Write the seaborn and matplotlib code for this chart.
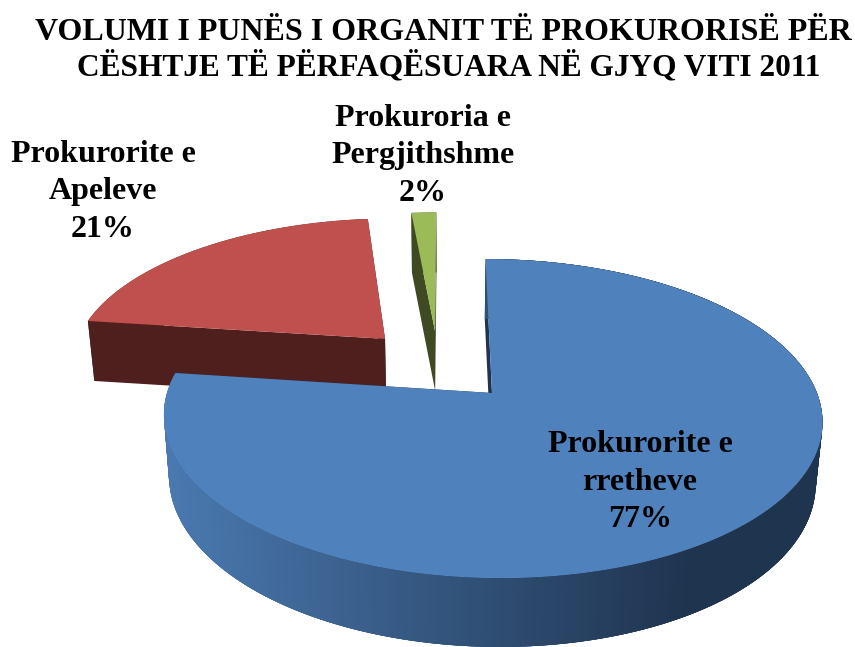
import numpy as np
import matplotlib
matplotlib.use('Agg')
import matplotlib.pyplot as plt
import seaborn as sns

title_lines = ['VOLUMI I PUNËS I ORGANIT TË PROKURORISË PËR',
               'CËSHTJE TË PËRFAQËSUARA NË GJYQ VITI 2011']
names = ['Prokurorite e\nrretheve', 'Prokurorite e\nApeleve', 'Prokuroria e\nPergjithshme']
shares = [77.1, 21.4, 1.5]
top_colors = ['#4F81BD', '#C0504D', '#9BBB59']
wall_colors = ['#1F344F', '#4F1F1E', '#3F4A23']

# layout: explode offset of each slice on the pie plane, label centre in pixels
explode_x = [0.0, -0.340, -0.1775]
explode_y = [0.0, 0.369, 0.427]
label_x = [640, 103, 423]
label_y = [482, 192, 156]
title_x = [443, 449]
title_y = [32, 67]
title_size = [23, 22.6]

# perspective of the pie plane
APEX_X, APEX_Y = 492, 393
VANISH_X = 445
RX, RY, K = 325, 155.4, 0.16


def project(X, Y, bottom=False):
    w = 1 + K*Y
    sx = VANISH_X + (APEX_X - VANISH_X + RX*X)/w
    sy = APEX_Y - RY*Y/w
    if bottom:
        sx = VANISH_X + (sx - VANISH_X)*0.982
        sy = sy + 60 + 9*np.clip(-Y, 0, None)
    return sx, sy


sns.set_theme(style='white')
plt.rcParams['font.family'] = ['Liberation Serif', 'DejaVu Serif']
plt.rcParams['font.weight'] = 'bold'

fig, ax = plt.subplots(figsize=(8.55, 6.47), dpi=100)
fig.subplots_adjust(0, 0, 1, 1)
ax.set_xlim(0, 855)
ax.set_ylim(647, 0)
ax.set_xticks([])
ax.set_yticks([])
sns.despine(ax=ax, left=True, bottom=True)

# angles run clockwise from twelve o'clock
fracs = np.array(shares)/np.sum(shares)
ends = np.pi/2 - 2*np.pi*np.cumsum(fracs)
starts = np.r_[np.pi/2, ends[:-1]]

# blue rim shading, light on the left to dark on the right
shade = sns.blend_palette(['#4A79B0', '#1F344F'], n_colors=200)

# back slices first, the big one is in front
for i in [1, 2, 0]:
    th = np.linspace(starts[i], ends[i], 300)
    ox, oy = explode_x[i], explode_y[i]
    X = ox + np.cos(th)
    Y = oy + np.sin(th)

    # the two cut walls of the slice
    for X_edge, Y_edge in [(X[0], Y[0]), (X[-1], Y[-1])]:
        t1 = project(np.array([X_edge, ox]), np.array([Y_edge, oy]))
        b1 = project(np.array([ox, X_edge]), np.array([oy, Y_edge]), bottom=True)
        ax.fill(np.r_[t1[0], b1[0]], np.r_[t1[1], b1[1]], color=wall_colors[i], lw=0)

    # outer rim
    tx, ty = project(X, Y)
    bx, by = project(X, Y, bottom=True)
    if i == 0:
        # quads overlap a little so no seams show between them
        for j in range(len(th) - 4):
            pos = np.clip((tx[j] - 165)/(690 - 165), 0, 1)
            ax.fill([tx[j], tx[j+4], bx[j+4], bx[j]], [ty[j], ty[j+4], by[j+4], by[j]],
                    color=shade[int(pos*199)], lw=0)
    else:
        ax.fill(np.r_[tx, bx[::-1]], np.r_[ty, by[::-1]], color=wall_colors[i], lw=0)

    # top face
    ax_, ay_ = project(np.array([ox]), np.array([oy]))
    ax.fill(np.r_[ax_, tx], np.r_[ay_, ty], color=top_colors[i], lw=0)

for i in range(2):
    ax.text(title_x[i], title_y[i], title_lines[i], ha='center', va='center',
            fontsize=title_size[i], color='black')

for i in range(3):
    txt = '{}\n{}%'.format(names[i], int(round(shares[i])))
    ax.text(label_x[i], label_y[i], txt, ha='center', va='center', fontsize=23,
            linespacing=1.38, color='black')

fig.savefig('out.png', dpi=100)
